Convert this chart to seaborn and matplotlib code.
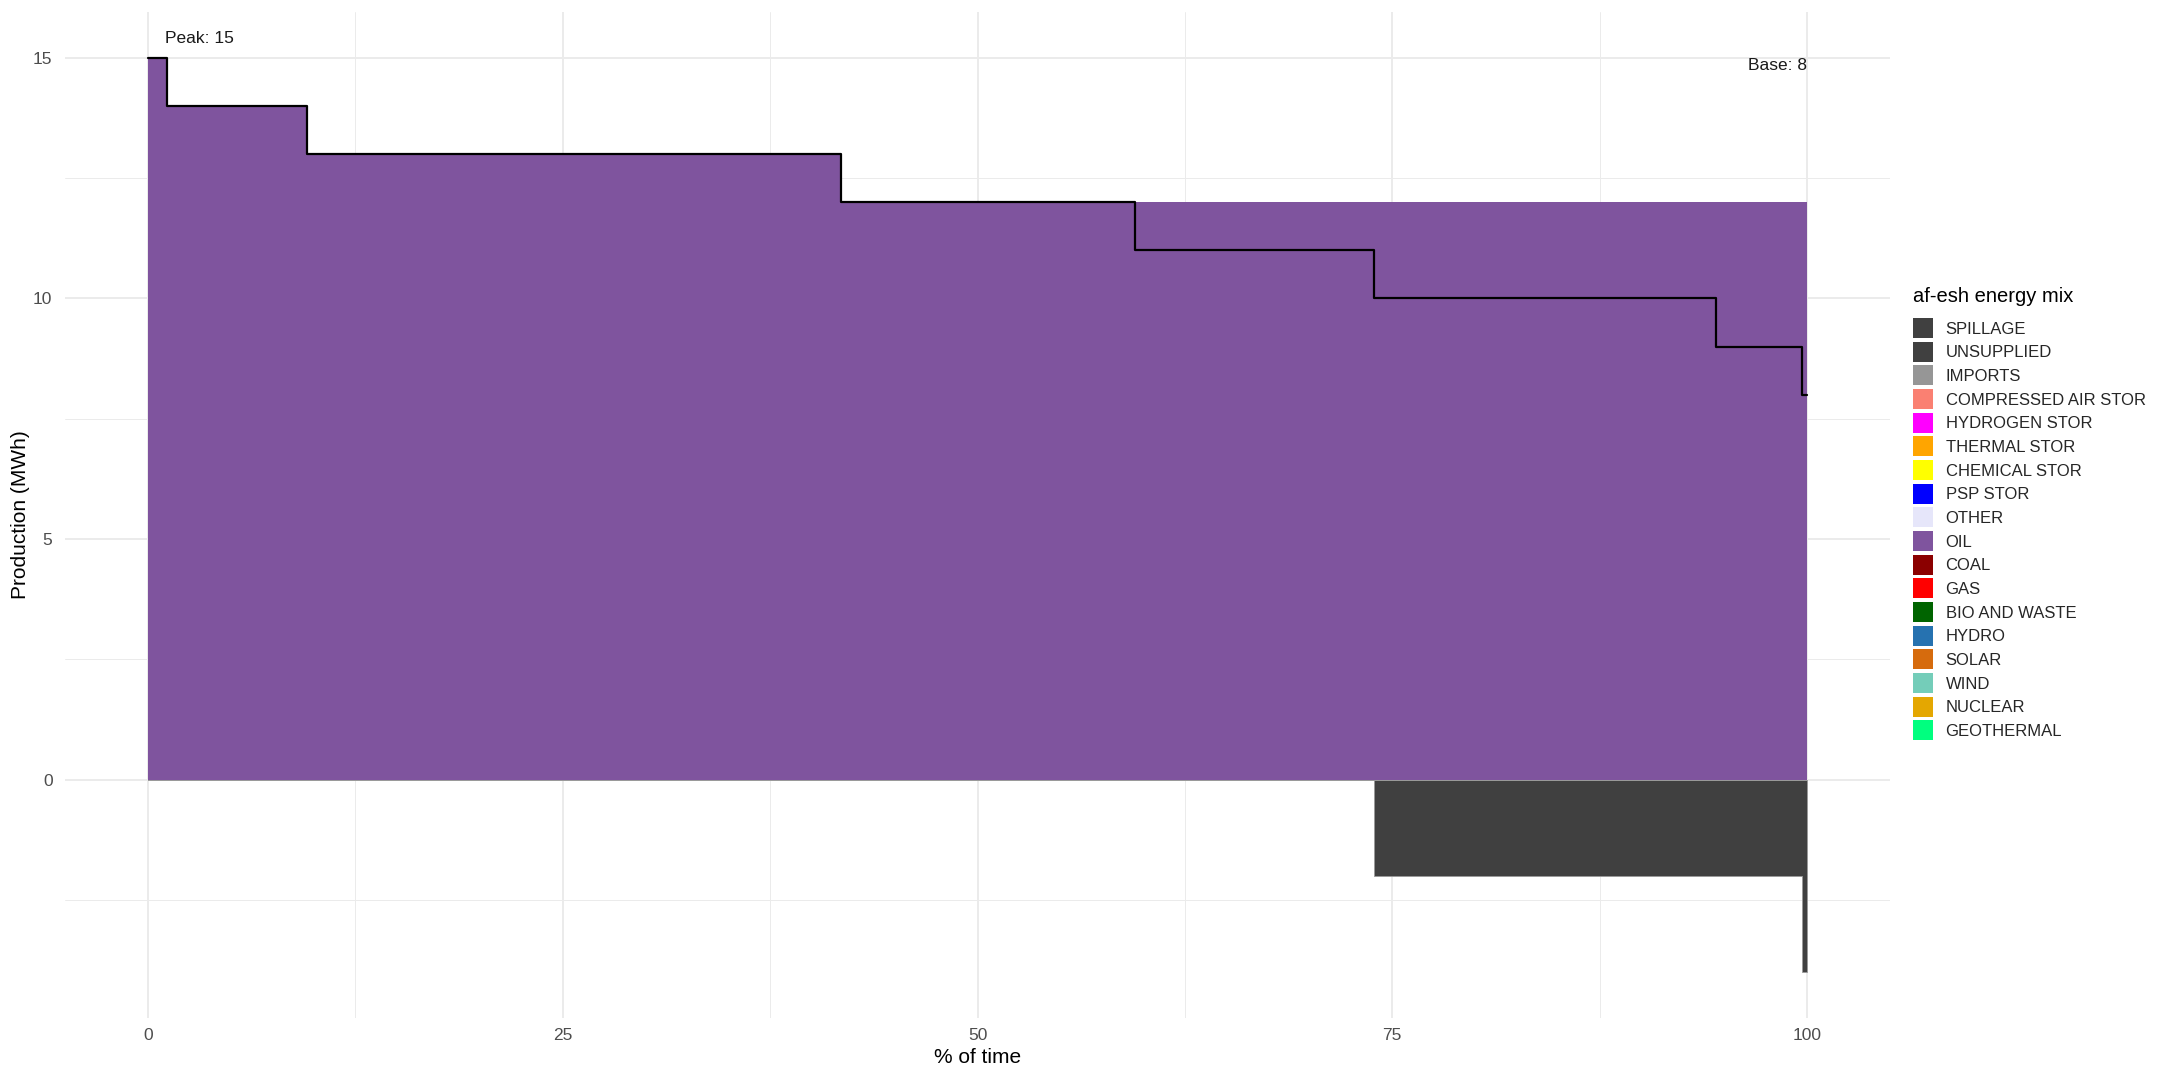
import numpy as np
import pandas as pd
import matplotlib
matplotlib.use("Agg")
import matplotlib.pyplot as plt
from matplotlib.patches import Patch
import seaborn as sns

# load duration curve, % of time breakpoints
pct_breaks = [0, 1.17, 9.58, 41.78, 59.47, 73.92, 94.53, 99.70, 100]
load_mwh = [15, 14, 13, 12, 11, 10, 9, 8]
oil_mwh = [15, 14, 13, 12, 12, 12, 12, 12]
spillage_mwh = [0, 0, 0, 0, 0, -2, -2, -4]

mix_names = ["SPILLAGE", "UNSUPPLIED", "IMPORTS", "COMPRESSED AIR STOR", "HYDROGEN STOR",
             "THERMAL STOR", "CHEMICAL STOR", "PSP STOR", "OTHER", "OIL", "COAL", "GAS",
             "BIO AND WASTE", "HYDRO", "SOLAR", "WIND", "NUCLEAR", "GEOTHERMAL"]
mix_colors = ["#404040", "#404040", "#969696", "#FA8072", "#FF00FF",
              "#FFA500", "#FFFF00", "#0000FF", "#E6E6FA", "#7F549E", "#8B0000", "#FF0000",
              "#006400", "#2672B0", "#D66B0D", "#74CDB9", "#E4A701", "#00FF7F"]

sns.set_theme(style="white")
plt.rcParams["font.family"] = ["Liberation Sans", "DejaVu Sans"]

df = pd.DataFrame({
    "pct": pct_breaks,
    "load": load_mwh + [load_mwh[-1]],
    "oil": oil_mwh + [oil_mwh[-1]],
    "spillage": spillage_mwh + [spillage_mwh[-1]],
})

W, H = 2160, 1080
fig = plt.figure(figsize=(W / 100, H / 100), dpi=100)
ax = fig.add_axes([65 / W, 1 - 1018 / H, (1890 - 65) / W, (1018 - 12) / H])

ax.fill_between(df["pct"], 0, df["oil"], step="post", color=mix_colors[9], lw=0, zorder=2)
ax.fill_between(df["pct"], 0, df["spillage"], step="post", facecolor=mix_colors[0],
                edgecolor="#9A9A9A", lw=0.6, zorder=2)
sns.lineplot(data=df, x="pct", y="load", drawstyle="steps-post", color="black",
             lw=1.6, ax=ax, zorder=3, estimator=None)

ax.text(1.0, 15.25, f"Peak: {max(load_mwh)}", ha="left", va="bottom", fontsize=12.5, color="#1A1A1A")
ax.text(100, 15.0, f"Base: {min(load_mwh)}", ha="right", va="top", fontsize=12.5, color="#1A1A1A")

ax.set_xlim(-5, 105)
ax.set_ylim(-4.95, 15.95)
ax.set_xticks([0, 25, 50, 75, 100])
ax.set_xticks([12.5, 37.5, 62.5, 87.5], minor=True)
ax.set_yticks([0, 5, 10, 15])
ax.set_yticks([-2.5, 2.5, 7.5, 12.5], minor=True)
ax.grid(which="major", color="#EBEBEB", lw=1.4, zorder=0)
ax.grid(which="minor", color="#EBEBEB", lw=0.7, zorder=0)
ax.set_axisbelow(True)
for s in ax.spines.values():
    s.set_visible(False)
ax.tick_params(which="both", length=0, labelsize=12.5, labelcolor="#4D4D4D")
ax.tick_params(axis="y", pad=9)
ax.tick_params(axis="x", pad=7)
ax.set_xlabel("% of time", fontsize=15, color="black", labelpad=4)
ax.set_ylabel("Production (MWh)", fontsize=15, color="black", labelpad=2.5)

# legend: title drawn separately so the gap to the first key matches
fig.text(1913 / W, 1 - 297 / H, "af-esh energy mix", ha="left", va="center",
         fontsize=14.5, color="black")
handles = [Patch(facecolor=c, edgecolor="none") for c in mix_colors]
fig.legend(handles, mix_names, loc="upper left",
           bbox_to_anchor=(1913 / W, 1 - 318 / H), frameon=False, fontsize=12,
           handlelength=1.2, handleheight=1.47,
           labelspacing=0.22, handletextpad=0.75, borderpad=0, borderaxespad=0)

fig.savefig("out.png", dpi=100)
